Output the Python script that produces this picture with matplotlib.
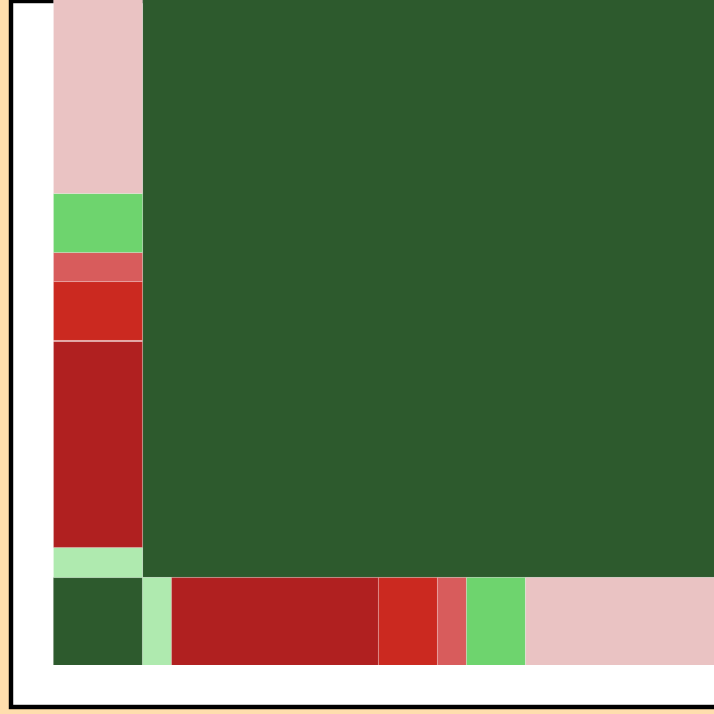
import matplotlib
matplotlib.use("Agg")
import matplotlib.pyplot as plt
from matplotlib.patches import Rectangle

# Data: segment sizes (shared by the bottom row and the left column)
categories = ["c1", "c2", "c3", "c4", "c5", "c6", "c7"]
sizes = [3, 1, 7, 2, 1, 2, 7]
colors = ["#2D5A2D", "#AFEAAF", "#B02020", "#CB2920", "#D85C5C", "#6ED46E", "#EAC3C3"]

W = H = 714
fig = plt.figure(figsize=(W / 100, H / 100), dpi=100)
fig.patch.set_facecolor("#FFDEAD")

# white panel with black frame (extends beyond top/right)
frame = Rectangle((11 / W, (H - 707) / H), 1.2, (707 - 1) / H,
                  transform=fig.transFigure, facecolor="white",
                  edgecolor="black", linewidth=3.2, zorder=0)
fig.add_artist(frame)

ax = fig.add_axes([53 / W, (H - 665) / H, (W - 53) / W, 665 / H])
ax.set_axis_off()
unit = 29.5
ax.set_xlim(0, (W - 53) / unit)
ax.set_ylim(0, 665 / unit)

total = sum(sizes)
edge = (1, 1, 1, 0.2)
first = sizes[0]

# big block
ax.add_patch(Rectangle((first, first), total - first, total - first,
                       facecolor=colors[0], edgecolor=edge, linewidth=0.8))

pos = 0
for s, c in zip(sizes, colors):
    # bottom row
    ax.add_patch(Rectangle((pos, 0), s, first, facecolor=c, edgecolor=edge, linewidth=0.8))
    # left column
    ax.add_patch(Rectangle((0, pos), first, s, facecolor=c, edgecolor=edge, linewidth=0.8))
    pos += s

fig.savefig("out.png", dpi=100, facecolor=fig.get_facecolor())
